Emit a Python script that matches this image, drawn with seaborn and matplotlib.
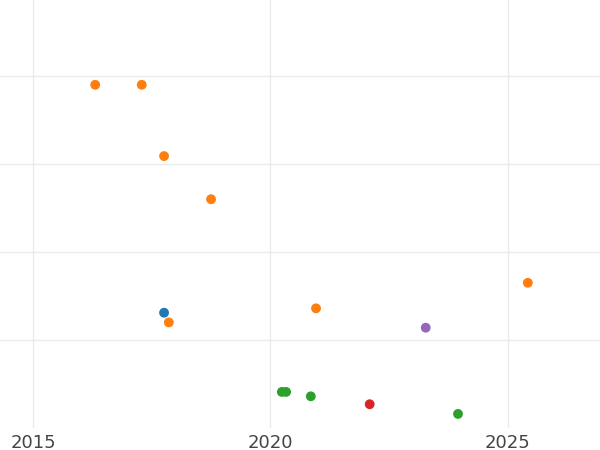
import matplotlib
matplotlib.use("Agg")
import matplotlib.pyplot as plt
import seaborn as sns
import pandas as pd

years = [2016.31, 2017.29, 2017.76, 2018.75, 2025.42, 2020.96, 2017.86,
         2017.76,
         2020.24, 2020.33, 2020.85, 2023.95,
         2022.09,
         2023.27]
values = [3.90, 3.90, 3.09, 2.60, 1.65, 1.36, 1.20,
          1.31,
          0.41, 0.41, 0.36, 0.16,
          0.27,
          1.14]
groups = ["B"] * 7 + ["A"] + ["C"] * 4 + ["D"] + ["E"]
palette = {"A": "#1f77b4", "B": "#ff7f0e", "C": "#2ca02c", "D": "#d62728", "E": "#9467bd"}

df = pd.DataFrame({"year": years, "value": values, "group": groups})

sns.set_style("whitegrid")
fig = plt.figure(figsize=(6, 4.5), dpi=100)
ax = fig.add_axes([0, 450 - 428 and 22 / 450, 1, 428 / 450])
sns.scatterplot(data=df, x="year", y="value", hue="group", palette=palette,
                s=50, edgecolor="none", legend=False, ax=ax)
ax.set_xlim(2014.305, 2026.94)
ax.set_ylim(0, 428 / 88)
ax.set_xticks([2015, 2020, 2025])
ax.set_yticks([1, 2, 3, 4])
ax.set_yticklabels([])
ax.tick_params(axis="y", length=0)
ax.tick_params(axis="x", labelsize=13, colors="#444444", length=0, pad=4)
ax.grid(color="#ebebeb", linewidth=1)
for s in ax.spines.values():
    s.set_visible(False)
ax.set_xlabel("")
ax.set_ylabel("")
fig.savefig("out.png", dpi=100)
